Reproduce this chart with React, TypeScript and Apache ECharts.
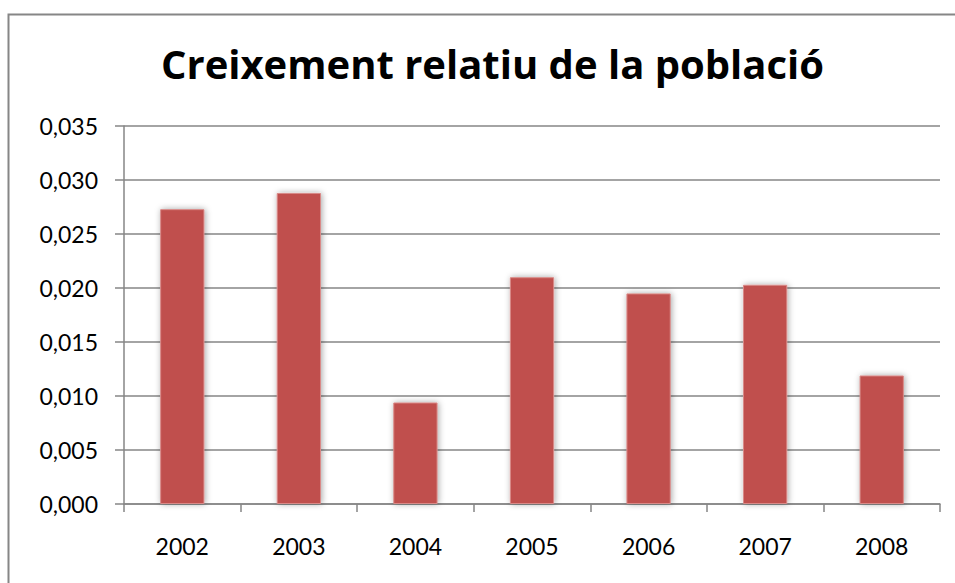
import React, { useEffect, useRef } from "react";
import * as echarts from "echarts";

const TITLE = "Creixement relatiu de la població";
const YEARS = ["2002", "2003", "2004", "2005", "2006", "2007", "2008"];
const GROWTH = [0.0273, 0.0288, 0.0094, 0.021, 0.0195, 0.0203, 0.0119];
const Y_MIN = 0;
const Y_MAX = 0.035;
const Y_STEP = 0.005;

const FONT = "Lato, 'Open Sans', sans-serif";
const TITLE_FONT = "'Open Sans', Lato, sans-serif";
const AXIS_GRAY = "#868686";

export default function App() {
  const ref = useRef<HTMLDivElement>(null);
  useEffect(() => {
    if (!ref.current) return;
    const chart = echarts.init(ref.current, undefined, { renderer: "svg" });
    chart.setOption({
      animation: false,
      backgroundColor: "#ffffff",
      title: {
        text: TITLE,
        left: 156,
        top: 38,
        textStyle: {
          fontFamily: TITLE_FONT,
          fontWeight: "bold",
          fontSize: 40,
          color: "#000000",
        },
      },
      graphic: [
        {
          type: "rect",
          shape: { x: 8.5, y: 14.5, width: 1000, height: 700 },
          style: { fill: "none", stroke: AXIS_GRAY, lineWidth: 2 },
          silent: true,
          z: 100,
        },
      ],
      grid: { left: 124, right: 15, top: 126, bottom: 79 },
      xAxis: {
        type: "category",
        data: YEARS,
        axisLine: { lineStyle: { color: AXIS_GRAY, width: 1.5 } },
        axisTick: { show: true, length: 8, lineStyle: { color: AXIS_GRAY, width: 1.5 } },
        axisLabel: {
          margin: 30,
          fontFamily: FONT,
          fontSize: 23,
          color: "#000000",
        },
      },
      yAxis: {
        type: "value",
        min: Y_MIN,
        max: Y_MAX,
        interval: Y_STEP,
        axisLine: { show: true, lineStyle: { color: AXIS_GRAY, width: 1.5 } },
        axisTick: { show: true, length: 9, lineStyle: { color: AXIS_GRAY, width: 1.5 } },
        splitLine: { lineStyle: { color: AXIS_GRAY, width: 1.5 } },
        axisLabel: {
          margin: 26,
          fontFamily: FONT,
          fontSize: 23,
          color: "#000000",
          formatter: (v: number) => v.toFixed(3).replace(".", ","),
        },
      },
      series: [
        {
          type: "bar",
          data: GROWTH,
          barWidth: "38%",
          itemStyle: {
            color: "#C0504D",
            borderColor: "#d98a88",
            borderWidth: 1,
            shadowBlur: 6,
            shadowColor: "rgba(0,0,0,0.35)",
            shadowOffsetX: 1,
            shadowOffsetY: 0,
          },
        },
      ],
    });
    return () => chart.dispose();
  }, []);
  return (
    <div
      ref={ref}
      style={{ position: "absolute", left: 0, top: 0, width: 955, height: 583 }}
    />
  );
}
